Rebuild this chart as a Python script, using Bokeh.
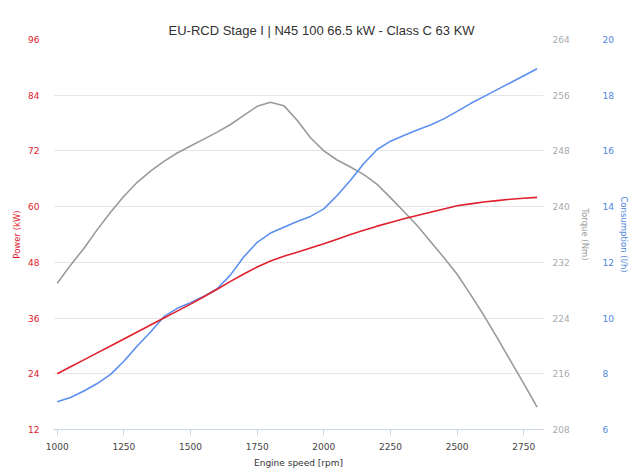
from bokeh.plotting import figure
from bokeh.models import LinearAxis, Range1d, FixedTicker, Title
from bokeh.embed import file_html
from bokeh.resources import INLINE

title_text = "EU-RCD Stage I | N45 100 66.5 kW - Class C 63 KW"

rpm = [1000, 1050, 1100, 1150, 1200, 1250, 1300, 1350, 1400, 1450,
       1500, 1550, 1600, 1650, 1700, 1750, 1800, 1850, 1900, 1950,
       2000, 2050, 2100, 2150, 2200, 2250, 2300, 2350, 2400, 2450,
       2500, 2550, 2600, 2650, 2700, 2750, 2800]
power = [24.0, 25.5, 27.0, 28.5, 30.0, 31.5, 33.0, 34.5, 36.0, 37.5,
         39.0, 40.6, 42.2, 43.9, 45.5, 47.0, 48.3, 49.3, 50.2, 51.1,
         52.0, 53.0, 54.0, 54.9, 55.8, 56.6, 57.4, 58.1, 58.8, 59.5,
         60.2, 60.6, 61.0, 61.3, 61.6, 61.8, 62.0]
torque = [229.0, 231.6, 234.0, 236.7, 239.2, 241.5, 243.5, 245.1, 246.5, 247.7,
          248.7, 249.7, 250.7, 251.8, 253.1, 254.4, 255.0, 254.5, 252.4, 249.9,
          248.0, 246.7, 245.7, 244.6, 243.2, 241.3, 239.3, 237.3, 235.0, 232.7,
          230.3, 227.4, 224.4, 221.2, 217.9, 214.6, 211.2]
consumption = [7.0, 7.15, 7.38, 7.65, 7.98, 8.45, 9.0, 9.5, 10.05, 10.35,
               10.55, 10.78, 11.05, 11.55, 12.2, 12.72, 13.05, 13.26, 13.47, 13.65,
               13.92, 14.4, 14.95, 15.55, 16.05, 16.35, 16.55, 16.75, 16.93, 17.15,
               17.42, 17.7, 17.95, 18.2, 18.45, 18.7, 18.95]

x_ticks = [1000, 1250, 1500, 1750, 2000, 2250, 2500, 2750]
power_ticks = [12, 24, 36, 48, 60, 72, 84, 96]
torque_ticks = [208, 216, 224, 232, 240, 248, 256, 264]
cons_ticks = [6, 8, 10, 12, 14, 16, 18, 20]

RED = "#e0202c"
GRAY = "#9a9a9a"
BLUE = "#5b8ff0"
FONT = "DejaVu Sans"

p = figure(width=641, height=475, output_backend="svg", toolbar_location=None,
           title=None,
           x_range=Range1d(986, 2824), y_range=Range1d(12, 96),
           min_border_left=53, min_border_right=98, min_border_top=39,
           min_border_bottom=46, outline_line_color=None,
           background_fill_color="white", border_fill_color="white")

# empty spacer next to the plot frame (no ticks, no labels)
spacer = LinearAxis(ticker=FixedTicker(ticks=[]), axis_line_color=None,
                    major_tick_line_color=None, minor_tick_line_color=None,
                    major_tick_in=0, major_tick_out=15, minor_tick_out=0,
                    major_label_standoff=0)
p.add_layout(spacer, "above")

# chart title, outside the spacer
chart_title = Title(text=title_text, align="left", offset=115,
                    text_font="Liberation Sans", text_font_size="13px",
                    text_font_style="normal", text_color="#333333", standoff=4)
p.add_layout(chart_title, "above")

p.extra_y_ranges = {"torque": Range1d(208, 264), "cons": Range1d(6, 20)}

# grid
p.xgrid.grid_line_color = None
p.ygrid.grid_line_color = "#e6e6e6"
p.ygrid.ticker = FixedTicker(ticks=power_ticks)

# x axis
xa = p.below[0]
xa.ticker = FixedTicker(ticks=x_ticks)
xa.axis_line_color = "#ccd6eb"
xa.major_tick_line_color = "#ccd6eb"
xa.major_tick_in = 0
xa.major_tick_out = 6
xa.minor_tick_line_color = None
xa.major_label_text_font = FONT
xa.major_label_text_font_size = "9px"
xa.major_label_text_color = "#444444"
xa.major_label_standoff = 7
xa.axis_label = "Engine speed [rpm]"
xa.axis_label_text_font = FONT
xa.axis_label_text_font_size = "9px"
xa.axis_label_text_font_style = "normal"
xa.axis_label_text_color = "#333333"
xa.axis_label_standoff = 5

# left axis (power)
ya = p.left[0]
ya.ticker = FixedTicker(ticks=power_ticks)
ya.axis_line_color = None
ya.major_tick_line_color = None
ya.minor_tick_line_color = None
ya.major_tick_out = 0
ya.major_tick_in = 0
ya.major_label_text_font = FONT
ya.major_label_text_font_size = "9px"
ya.major_label_text_color = RED
ya.major_label_standoff = 14
ya.axis_label = "Power (kW)"
ya.axis_label_text_font = FONT
ya.axis_label_text_font_size = "8.5px"
ya.axis_label_text_font_style = "normal"
ya.axis_label_text_color = RED
ya.axis_label_standoff = 3


def style_right(ax, ticks, color, label_color, label, standoff, label_standoff):
    ax.ticker = FixedTicker(ticks=ticks)
    ax.axis_line_color = None
    ax.major_tick_line_color = None
    ax.minor_tick_line_color = None
    ax.major_tick_out = 0
    ax.major_tick_in = 0
    ax.major_label_text_font = FONT
    ax.major_label_text_font_size = "9px"
    ax.major_label_text_color = label_color
    ax.major_label_standoff = standoff
    ax.axis_label = label
    ax.axis_label_text_font = FONT
    ax.axis_label_text_font_size = "8.5px"
    ax.axis_label_text_font_style = "normal"
    ax.axis_label_text_color = color
    ax.axis_label_standoff = label_standoff


ta = LinearAxis(y_range_name="torque")
style_right(ta, torque_ticks, GRAY, "#aaaaaa", "Torque (Nm)", 9, 7)
p.add_layout(ta, "right")

ca = LinearAxis(y_range_name="cons")
style_right(ca, cons_ticks, "#4f86e0", "#4f86e0", "Consumption (l/h)", 10, 2)
p.add_layout(ca, "right")

p.line(rpm, torque, y_range_name="torque", line_color=GRAY, line_width=1.6)
p.line(rpm, consumption, y_range_name="cons", line_color=BLUE, line_width=1.6)
p.line(rpm, power, line_color=RED, line_width=1.6)

open("out.html", "w").write(file_html(p, INLINE))
